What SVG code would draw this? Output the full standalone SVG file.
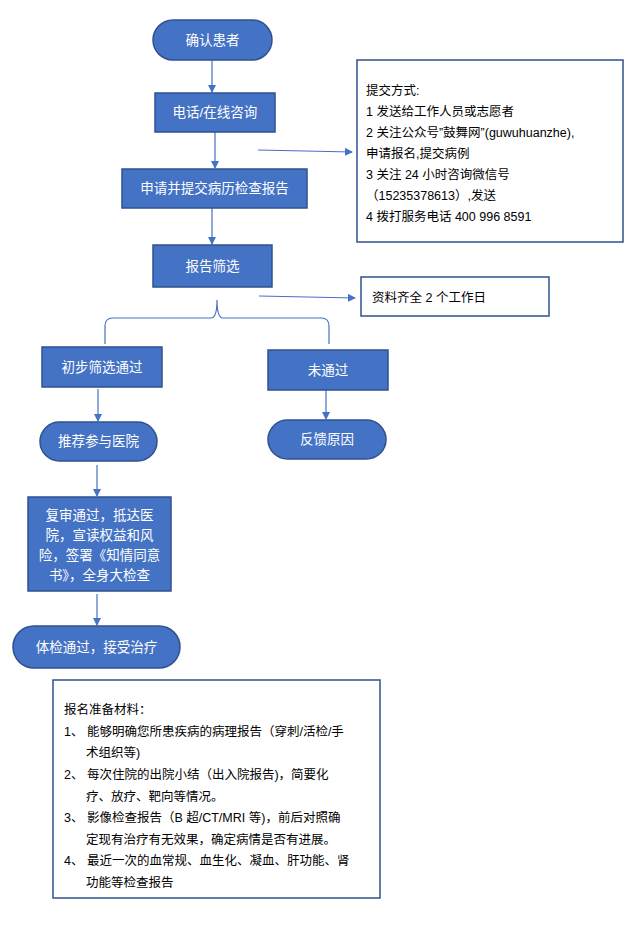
<svg xmlns="http://www.w3.org/2000/svg" width="632" height="928" viewBox="0 0 632 928">
<defs>
<style>
.n{fill:#4472C4;stroke:#2F528F;stroke-width:1.5}
.t{fill:#fff;font-family:"Liberation Sans","Noto Sans CJK SC",sans-serif;font-size:13.5px;text-anchor:middle}
.b{fill:#fff;stroke:#2F528F;stroke-width:1.5}
.k{fill:#000;font-family:"Liberation Sans","Noto Sans CJK SC",sans-serif;font-size:12.5px}
.c{fill:none;stroke:#4472C4;stroke-width:1.2}
</style>
<marker id="a" markerWidth="8" markerHeight="8" refX="7" refY="4" orient="auto" markerUnits="userSpaceOnUse"><path d="M0,0L8,4L0,8z" fill="#4472C4"/></marker>
</defs>
<rect width="632" height="928" fill="#fff"/>
<g id="connectors">
<path class="c" d="M212,60V92" marker-end="url(#a)"/>
<path class="c" d="M215,132V168" marker-end="url(#a)"/>
<path class="c" d="M212,208V244" marker-end="url(#a)"/>
<path class="c" d="M98,389V421" marker-end="url(#a)"/>
<path class="c" d="M326,390V419" marker-end="url(#a)"/>
<path class="c" d="M97,465V496" marker-end="url(#a)"/>
<path class="c" d="M97,594V625" marker-end="url(#a)"/>
<path class="c" d="M258,150L352,152" marker-end="url(#a)"/>
<path class="c" d="M259,296L355,298" marker-end="url(#a)"/>
<path class="c" d="M105,344V326Q105,318 113,318H211Q217,318 217,300Q217,318 223,318H321Q329,318 329,326V344"/>
</g>
<g id="n1"><rect class="n" x="153" y="20" width="119" height="40" rx="20"/><text class="t" x="212.5" y="45">确认患者</text></g>
<g id="n2"><rect class="n" x="155" y="93" width="120" height="39"/><text class="t" x="215" y="117">电话/在线咨询</text></g>
<g id="n3"><rect class="n" x="122" y="169" width="185" height="39"/><text class="t" x="214.5" y="193">申请并提交病历检查报告</text></g>
<g id="n4"><rect class="n" x="153" y="245" width="119" height="42"/><text class="t" x="212.5" y="271">报告筛选</text></g>
<g id="n5"><rect class="n" x="42" y="347" width="120" height="40"/><text class="t" x="102" y="372">初步筛选通过</text></g>
<g id="n6"><rect class="n" x="268" y="350" width="120" height="40"/><text class="t" x="328" y="375">未通过</text></g>
<g id="n7"><rect class="n" x="40" y="422" width="117" height="39" rx="19.5"/><text class="t" x="98.5" y="446">推荐参与医院</text></g>
<g id="n8"><rect class="n" x="268" y="420" width="118" height="39" rx="19.5"/><text class="t" x="327" y="444">反馈原因</text></g>
<g id="n9"><rect class="n" x="28" y="497" width="143" height="94"/>
<text class="t" x="99.5" y="520">复审通过，抵达医</text><text class="t" x="99.5" y="540">院，宣读权益和风</text><text class="t" x="99.5" y="560">险，签署《知情同意</text><text class="t" x="99.5" y="580">书》，全身大检查</text></g>
<g id="n10"><rect class="n" x="13" y="626" width="167" height="42" rx="21"/><text class="t" x="96.5" y="652">体检通过，接受治疗</text></g>
<g id="n11"><rect class="b" x="357" y="60" width="266" height="182"/>
<text class="k" x="366" y="95">提交方式:</text>
<text class="k" x="366" y="116">1 发送给工作人员或志愿者</text>
<text class="k" x="366" y="137">2 关注公众号”鼓舞网”(guwuhuanzhe),</text>
<text class="k" x="366" y="158">申请报名,提交病例</text>
<text class="k" x="366" y="179">3 关注 24 小时咨询微信号</text>
<text class="k" x="366" y="200">（15235378613）,发送</text>
<text class="k" x="366" y="221">4 拨打服务电话 400 996 8591</text></g>
<g id="n12"><rect class="b" x="361" y="277" width="188" height="39"/><text class="k" x="372" y="302">资料齐全 2 个工作日</text></g>
<g id="n13"><rect class="b" x="53" y="680" width="327" height="218"/>
<text class="k" x="64" y="714">报名准备材料：</text>
<text class="k" x="64" y="736">1、 能够明确您所患疾病的病理报告（穿刺/活检/手</text>
<text class="k" x="86" y="757">术组织等)</text>
<text class="k" x="64" y="779">2、 每次住院的出院小结（出入院报告)，简要化</text>
<text class="k" x="86" y="801">疗、放疗、靶向等情况。</text>
<text class="k" x="64" y="822">3、 影像检查报告（B 超/CT/MRI 等)，前后对照确</text>
<text class="k" x="86" y="844">定现有治疗有无效果，确定病情是否有进展。</text>
<text class="k" x="64" y="865">4、 最近一次的血常规、血生化、凝血、肝功能、肾</text>
<text class="k" x="86" y="887">功能等检查报告</text></g>
</svg>
